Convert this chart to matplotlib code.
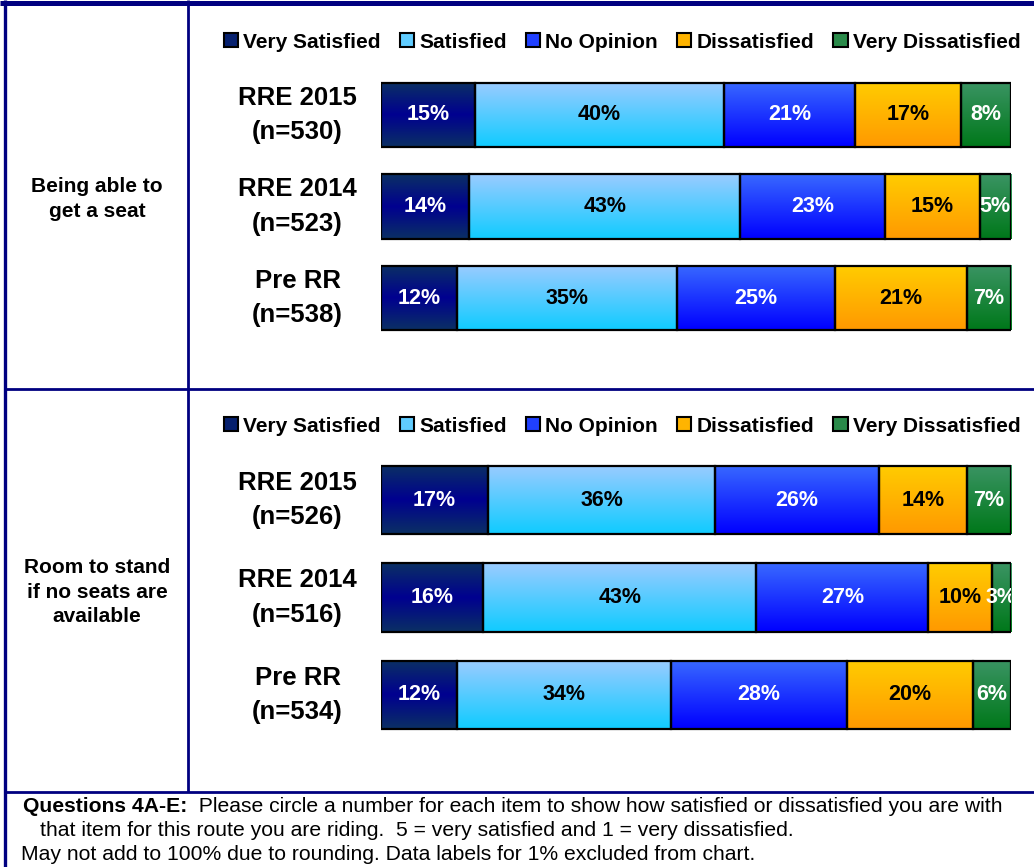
import matplotlib
matplotlib.use("Agg")
import matplotlib.pyplot as plt
import matplotlib.patches as mpatches
from matplotlib.colors import LinearSegmentedColormap
import numpy as np

# ── Data ──────────────────────────────────────────────────────────────────────

categories = ["Very Satisfied", "Satisfied", "No Opinion", "Dissatisfied", "Very Dissatisfied"]

seat_rows = ["RRE 2015\n(n=530)", "RRE 2014\n(n=523)", "Pre RR\n(n=538)"]
seat_vals = [[15, 40, 21, 17, 8],
             [14, 43, 23, 15, 5],
             [12, 35, 25, 21, 7]]

stand_rows = ["RRE 2015\n(n=526)", "RRE 2014\n(n=516)", "Pre RR\n(n=534)"]
stand_vals = [[17, 36, 26, 14, 7],
              [16, 43, 27, 10, 3],
              [12, 34, 28, 20, 6]]

panel_titles = ["Being able to\nget a seat", "Room to stand\nif no seats are\navailable"]

note_bold = "Questions 4A-E:"
note_line1 = "  Please circle a number for each item to show how satisfied or dissatisfied you are with"
note_line2 = "that item for this route you are riding.  5 = very satisfied and 1 = very dissatisfied."
note_line3 = "May not add to 100% due to rounding. Data labels for 1% excluded from chart."

# ── Colours (top → bottom gradient stops) ─────────────────────────────────────

grad_stops = [
    ["#0B3064", "#000090", "#0B3064"],
    ["#9ACBFF", "#10CCFF"],
    ["#3868FF", "#0000FF"],
    ["#FFCC00", "#FF9900"],
    ["#3A9463", "#00781A"],
]
legend_fill = ["#06206E", "#60CCFF", "#2040FF", "#FFB400", "#2A8A4A"]
label_colors = ["white", "black", "white", "black", "white"]
navy = "#000080"

plt.rcParams["font.family"] = ["Liberation Sans", "DejaVu Sans"]

W, H = 1034, 867
fig = plt.figure(figsize=(W / 100, H / 100), dpi=100)


def px_box(left, top, right, bottom):
    return [left / W, 1 - bottom / H, (right - left) / W, (bottom - top) / H]


# ── Frame lines ───────────────────────────────────────────────────────────────

bg = fig.add_axes([0, 0, 1, 1])
bg.set_xlim(0, W)
bg.set_ylim(H, 0)
bg.axis("off")
bg.plot([0, W], [2.5, 2.5], color=navy, lw=3.6, solid_capstyle="butt")
bg.plot([5, 5], [0, H], color=navy, lw=2.4, solid_capstyle="butt")
bg.plot([188, 188], [0, 792], color=navy, lw=2.0, solid_capstyle="butt")
bg.plot([4, W], [388.5, 388.5], color=navy, lw=2.0, solid_capstyle="butt")
bg.plot([4, W], [792, 792], color=navy, lw=2.0, solid_capstyle="butt")

for title, yc in zip(panel_titles, [199, 592]):
    bg.text(97, yc, title, ha="center", va="center", fontsize=15,
            fontweight="bold", linespacing=1.38)


# ── Panels ────────────────────────────────────────────────────────────────────

def draw_panel(box, rows, vals, legend_y):
    ax = fig.add_axes(box)
    vals = np.array(vals, dtype=float)
    shares = vals / vals.sum(axis=1, keepdims=True) * 100
    lefts = np.cumsum(shares, axis=1) - shares
    bar_h = 0.70
    for ci in range(len(categories)):
        cmap = LinearSegmentedColormap.from_list("g", grad_stops[ci])
        grad = np.linspace(0, 1, 64).reshape(-1, 1)
        for ri in range(len(rows)):
            w = shares[ri, ci]
            l = lefts[ri, ci]
            ax.imshow(grad, cmap=cmap, aspect="auto", zorder=2,
                      extent=(l, l + w, ri + bar_h / 2, ri - bar_h / 2))
            ax.barh(ri, w, left=l, height=bar_h, color="none",
                    edgecolor="black", linewidth=1.6, zorder=3)
            ax.text(l + w / 2, ri, f"{int(vals[ri, ci])}%", ha="center",
                    va="center", fontsize=15.5, fontweight="bold",
                    color=label_colors[ci], zorder=4, clip_on=True)
    ax.set_xlim(0, 100)
    ax.set_ylim(len(rows) - 0.5, -0.5)
    ax.axis("off")
    for ri, lab in enumerate(rows):
        ax.text(-0.1325, ri, lab, transform=ax.get_yaxis_transform(),
                ha="center", va="center", fontsize=18.5, fontweight="bold",
                linespacing=1.55)

    handles = [mpatches.Patch(facecolor=legend_fill[i], edgecolor="black",
                              linewidth=1.5, label=c)
               for i, c in enumerate(categories)]
    fig.legend(handles=handles, loc="center left",
               bbox_to_anchor=(224 / W, 1 - legend_y / H), ncol=5,
               frameon=False, borderpad=0, borderaxespad=0,
               handlelength=0.68, handleheight=0.68, handletextpad=0.25,
               columnspacing=0.92, prop={"size": 15.0, "weight": "bold"})
    return ax


draw_panel(px_box(381, 69.25, 1011, 343.75), seat_rows, seat_vals, 42)
draw_panel(px_box(381, 451.25, 1011, 743.75), stand_rows, stand_vals, 426)

# ── Footnote ──────────────────────────────────────────────────────────────────

t = fig.text(23 / W, 1 - 806 / H, note_bold, ha="left", va="center",
             fontsize=15.2, fontweight="bold")
renderer = fig.canvas.get_renderer()
bb = t.get_window_extent(renderer)
fig.text(bb.x1 / W, 1 - 806 / H, note_line1, ha="left", va="center",
         fontsize=15.2)
fig.text(40 / W, 1 - 831 / H, note_line2, ha="left", va="center",
         fontsize=15.2)
fig.text(21 / W, 1 - 855 / H, note_line3, ha="left", va="center",
         fontsize=15.2)

plt.savefig("out.png", dpi=100)
